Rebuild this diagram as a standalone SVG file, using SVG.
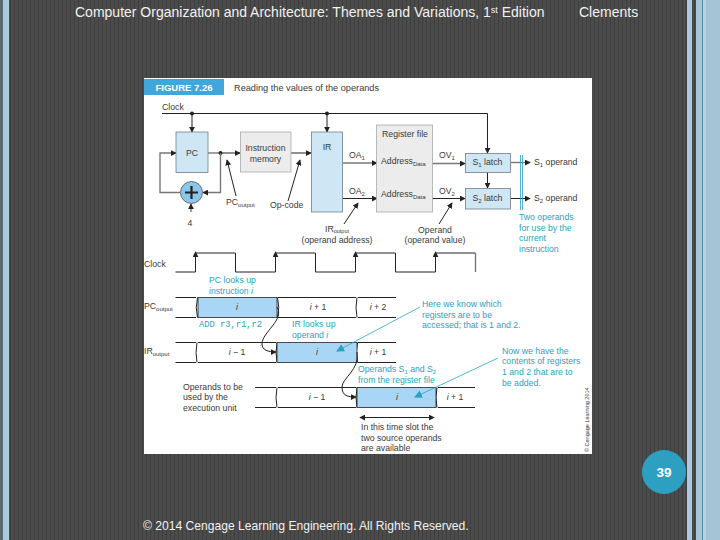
<svg xmlns="http://www.w3.org/2000/svg" width="720" height="540" viewBox="0 0 720 540">
<defs>
<pattern id="stripes" width="4" height="4" patternUnits="userSpaceOnUse"><rect width="4" height="4" fill="#4b4b4b"/><rect x="2" width="1" height="4" fill="#3e3e3e"/></pattern>
<marker id="a" viewBox="0 0 8 8" refX="7" refY="4" markerWidth="6" markerHeight="6" markerUnits="userSpaceOnUse" orient="auto-start-reverse"><path d="M0 0L8 4L0 8Z" fill="#222"/></marker>
<marker id="b" viewBox="0 0 8 8" refX="7" refY="4" markerWidth="8" markerHeight="8" markerUnits="userSpaceOnUse" orient="auto"><path d="M0 0L8 4L0 8Z" fill="#2aa3c0"/></marker>
</defs>
<style>
text{font-family:"Liberation Sans",Arial,sans-serif;fill:#3a3a3a;font-size:8.7px}
.h{fill:#f2f2f2;font-size:14px}
.f{fill:#f2f2f2;font-size:12.1px}
.c{fill:#2aa3c0}
.m{text-anchor:middle}
.k{fill:none;stroke:#222;stroke-width:1}
.g{fill:none;stroke:#777;stroke-width:1.4}
.t{fill:none;stroke:#2aa3c0;stroke-width:.8}
.bl{fill:#cfe6f5;stroke:#6f7f88;stroke-width:.8}
.gr{fill:#ececec;stroke:#aaa;stroke-width:.8}
.bf{fill:#a9d6f5;stroke:#222;stroke-width:.8}
.s{font-size:6px}
</style>
<rect width="720" height="540" fill="url(#stripes)"/>
<rect x="0" width="3" height="540" fill="#5a6a72"/>
<rect x="3" width="6" height="540" fill="#a9cbdb"/>
<rect x="687" width="5" height="540" fill="#a9cbdb"/>
<rect x="696" width="24" height="540" fill="#a3c5d6"/>
<rect x="702" width="1" height="540" fill="#4e8ba3"/>
<rect x="703" width="3" height="540" fill="#b7d4e2"/>
<text class="h" x="75" y="16.500">Computer Organization and Architecture: Themes and Variations, 1<tspan font-size="9" dy="-4">st</tspan><tspan dy="4"> Edition</tspan></text>
<text class="h" x="579" y="16.500">Clements</text>

<rect x="144" y="78" width="448" height="376" fill="#fff"/>
<rect x="144" y="79" width="80" height="16" fill="#3fa7dc"/>
<text x="184" y="91" class="m" style="fill:#fff;font-size:9.500px;font-weight:bold">FIGURE 7.26</text>
<text x="234" y="91" style="font-size:9.200px">Reading the values of the operands</text>

<g id="connectors">
<path class="k" d="M162 113.500H487.500V153" marker-end="url(#a)"/>
<path class="k" d="M192 113.500V132" marker-end="url(#a)"/>
<path class="k" d="M327 113.500V132" marker-end="url(#a)"/>
<circle cx="192" cy="113.500" r="2" fill="#222"/><circle cx="327" cy="113.500" r="2" fill="#222"/>
<path class="g" d="M208 153H220"/>
<path class="k" d="M220 153H240" marker-end="url(#a)"/>
<circle cx="220.500" cy="153" r="2" fill="#222"/>
<path class="g" d="M220.500 153V192.500H203" marker-end="url(#a)"/>
<path class="g" d="M180 192.500H160V153H176" marker-end="url(#a)"/>
<path class="g" d="M191 212V204" marker-end="url(#a)"/>
<path class="k" d="M291 153H311" marker-end="url(#a)"/>
<path class="g" d="M343 163H377" marker-end="url(#a)"/>
<path class="k" d="M343 198.500H377" marker-end="url(#a)"/>
<path class="g" d="M432 163.500H465" marker-end="url(#a)"/>
<path class="k" d="M432 198.500H465" marker-end="url(#a)"/>
<path class="k" d="M487.500 172V188" marker-end="url(#a)"/>
<path class="g" d="M511 162.500H530" marker-end="url(#a)"/>
<path class="k" d="M511 198.500H530" marker-end="url(#a)"/>
<path class="k" d="M236 196L227 160" marker-end="url(#a)"/>
<path class="k" d="M288 201L300 160" marker-end="url(#a)"/>
<path class="k" d="M344 224L358 203" marker-end="url(#a)"/>
<path class="k" d="M439 224L452 203" marker-end="url(#a)"/>
<path class="t" d="M520.500 155V210M522.500 155V210"/>

<path class="k" d="M175.500 272H195.500V253H235.500V272H275.500V253H315.500V272H355.500V253H395.500V272H435.500V253H475.500"/>
<path class="g" d="M475.500 253V272"/>
<path class="k" d="M195.500 262V252" marker-end="url(#a)"/>
<path class="k" d="M275.500 262V252" marker-end="url(#a)"/>
<path class="k" d="M355.500 262V252" marker-end="url(#a)"/>
<path class="k" d="M435.500 262V252" marker-end="url(#a)"/>

<path class="k" d="M175.500 297.500H196M175.500 317.500H196M278 297.500H356M278 317.500H356M358 297.500H396M358 317.500H396"/>
<path class="k" d="M197.500 297.500Q195 307.500 197.500 317.500M277.500 297.500Q280 307.500 277.500 317.500M357 297.500Q355 307.500 357 317.500"/>
<rect class="bf" x="198" y="297.500" width="79" height="20"/>
<path class="k" d="M175.500 342.500H196M175.500 362.500H196M198 342.500H276M198 362.500H276M358 342.500H396M358 362.500H396"/>
<path class="k" d="M197 342.500Q195 352.500 197 362.500M277 342.500Q275 352.500 277 362.500M357.500 342.500Q355 352.500 357.500 362.500"/>
<rect class="bf" x="277" y="342.500" width="80" height="20"/>
<path class="k" d="M255 387.500H276M255 407.500H276M278 387.500H356M278 407.500H356M438 387.500H475M438 407.500H475"/>
<path class="k" d="M277 387.500Q275 397.500 277 407.500M357 387.500Q355 397.500 357 407.500M437 387.500Q435 397.500 437 407.500"/>
<rect class="bf" x="357" y="387.500" width="79" height="20"/>
<path class="k" d="M277 307C285 320 262 332 262 344C262 350 268 352 276 352" marker-end="url(#a)"/>
<path class="k" d="M357 352C360 370 342 378 342 387C342 396 348 397 356 397" marker-end="url(#a)"/>
<path class="k" d="M360 417.500H434" marker-start="url(#a)" marker-end="url(#a)"/>
<path class="t" d="M420 307L337 351" marker-end="url(#b)"/>
<path class="t" d="M498 358L415 397" marker-end="url(#b)"/>
</g>

<g id="pc"><rect class="bl" x="176" y="132" width="32" height="40.500"/><text class="m" x="192" y="156">PC</text></g>
<g id="adder"><circle cx="191.500" cy="192.500" r="11" fill="#8cc6ea" stroke="#555" stroke-width=".8"/><path d="M185 192.500H198M191.500 186V199" stroke="#222" stroke-width="2.200" fill="none"/></g>
<g id="im"><rect class="gr" x="240.500" y="132" width="50.500" height="40"/><text class="m" x="265.500" y="150.500">Instruction</text><text class="m" x="265.500" y="161.500">memory</text></g>
<g id="ir"><rect class="bl" x="311.500" y="132" width="31" height="80"/><text class="m" x="327" y="150">IR</text></g>
<g id="rf"><rect class="gr" x="376.500" y="125" width="56" height="87"/><text class="m" x="405" y="137">Register file</text>
<text x="381" y="164">Address<tspan class="s" dy="2">Data</tspan></text><text x="381" y="197">Address<tspan class="s" dy="2">Data</tspan></text></g>
<g id="s1"><rect class="bl" x="465.500" y="153.500" width="45" height="19"/><text class="m" x="487.500" y="165">S<tspan class="s" dy="2">1</tspan><tspan dy="-2"> latch</tspan></text></g>
<g id="s2"><rect class="bl" x="465.500" y="188.500" width="45" height="20.500"/><text class="m" x="487.500" y="201">S<tspan class="s" dy="2">2</tspan><tspan dy="-2"> latch</tspan></text></g>

<text x="162" y="110">Clock</text>
<text x="349" y="158">OA<tspan class="s" dy="2">1</tspan></text><text x="349" y="194">OA<tspan class="s" dy="2">2</tspan></text>
<text x="439" y="158">OV<tspan class="s" dy="2">1</tspan></text><text x="439" y="194">OV<tspan class="s" dy="2">2</tspan></text>
<text x="534" y="165">S<tspan class="s" dy="2">1</tspan><tspan dy="-2"> operand</tspan></text>
<text x="534" y="201">S<tspan class="s" dy="2">2</tspan><tspan dy="-2"> operand</tspan></text>
<text x="226" y="205">PC<tspan class="s" dy="2">output</tspan></text>
<text x="270" y="208">Op-code</text>
<text class="m" x="190" y="226">4</text>
<text class="m" x="337" y="231.500">IR<tspan style="font-size:5.500px" dy="1.500">output</tspan></text>
<text class="m" x="337" y="243">(operand address)</text>
<text class="m" x="435" y="233">Operand</text>
<text class="m" x="435" y="243">(operand value)</text>
<g id="note1"><text class="c" x="519" y="220">Two operands</text><text class="c" x="519" y="231">for use by the</text><text class="c" x="519" y="241">current</text><text class="c" x="519" y="252">instruction</text></g>

<text x="144" y="267">Clock</text>
<text class="c" x="209" y="283">PC looks up</text><text class="c" x="209" y="294">instruction <tspan font-style="italic">i</tspan></text>
<text x="144" y="309">PC<tspan class="s" dy="2">output</tspan></text>
<text class="m" x="237" y="310" font-style="italic">i</text>
<text class="m" x="318" y="310"><tspan font-style="italic">i</tspan> + 1</text>
<text class="m" x="378" y="310"><tspan font-style="italic">i</tspan> + 2</text>
<text class="c" x="199" y="327" style="font-family:'Liberation Mono',monospace;font-size:8.750px">ADD r3,r1,r2</text>
<text class="c" x="292" y="327">IR looks up</text><text class="c" x="292" y="338">operand <tspan font-style="italic">i</tspan></text>
<text x="144" y="354">IR<tspan class="s" dy="2">output</tspan></text>
<text class="m" x="237" y="355"><tspan font-style="italic">i</tspan> − 1</text>
<text class="m" x="317" y="355" font-style="italic">i</text>
<text class="m" x="378" y="355"><tspan font-style="italic">i</tspan> + 1</text>
<text class="c" x="358" y="372">Operands S<tspan class="s" dy="2">1</tspan><tspan dy="-2"> and S</tspan><tspan class="s" dy="2">2</tspan></text>
<text class="c" x="358" y="383">from the register file</text>
<text x="183" y="390">Operands to be</text><text x="183" y="400">used by the</text><text x="183" y="411">execution unit</text>
<text class="m" x="317" y="400"><tspan font-style="italic">i</tspan> − 1</text>
<text class="m" x="397" y="400" font-style="italic">i</text>
<text class="m" x="455" y="400"><tspan font-style="italic">i</tspan> + 1</text>
<text x="361" y="430">In this time slot the</text><text x="361" y="441">two source operands</text><text x="361" y="451">are available</text>
<text class="c" x="422" y="307">Here we know which</text><text class="c" x="422" y="318">registers are to be</text><text class="c" x="422" y="328">accessed; that is 1 and 2.</text>
<text class="c" x="502" y="354">Now we have the</text><text class="c" x="502" y="364">contents of registers</text><text class="c" x="502" y="375">1 and 2 that are to</text><text class="c" x="502" y="386">be added.</text>
<text transform="translate(589 452) rotate(-90)" style="font-size:5.500px">© Cengage Learning 2014</text>

<g id="page"><circle cx="664" cy="472" r="22" fill="#2d9fc0"/><text class="m" x="664" y="476.500" style="fill:#fff;font-size:13.500px;font-weight:bold">39</text></g>
<text class="f" x="143" y="530">© 2014 Cengage Learning Engineering. All Rights Reserved.</text>
</svg>
